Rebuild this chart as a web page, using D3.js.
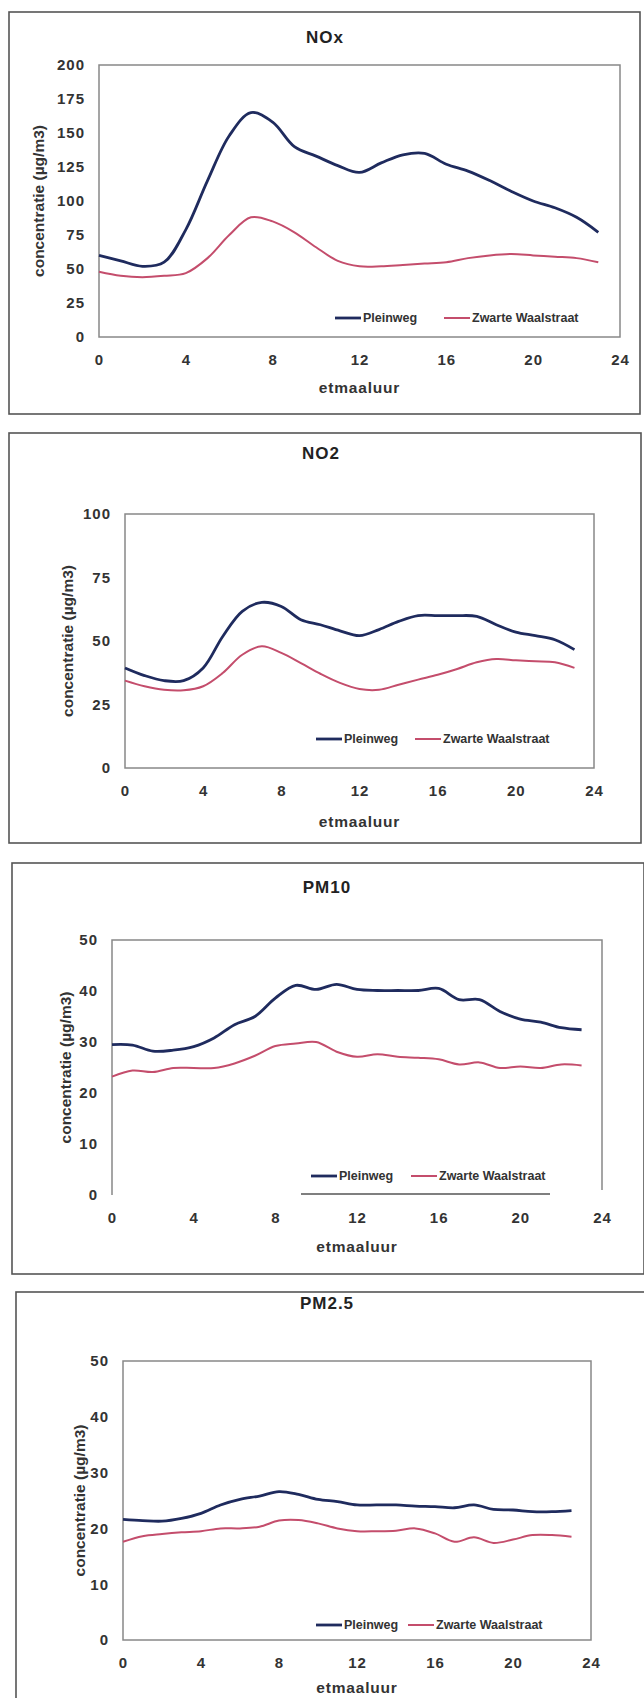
<!DOCTYPE html>
<html>
<head>
<meta charset="utf-8">
<script src="https://cdn.jsdelivr.net/npm/d3@7"></script>
<style>
  html, body { margin: 0; padding: 0; background: #fff; }
  svg { display: block; font-family: "Liberation Sans", Arial, sans-serif; }
</style>
</head>
<body>
<div id="chart"></div>
<script>
// uren van het etmaal
const hours = [0, 1, 2, 3, 4, 5, 6, 7, 8, 9, 10, 11, 12, 13, 14, 15, 16, 17, 18, 19, 20, 21, 22, 23];
const xTicks = [0, 4, 8, 12, 16, 20, 24];
const seriesNames = ['Pleinweg', 'Zwarte Waalstraat'];

// NOx
const noxPleinweg = [60, 56, 52, 55, 79, 115, 148, 165, 158, 140, 133, 126, 121, 128, 134, 135, 127, 122, 115, 107, 100, 95, 88, 77];
const noxZwarte   = [48, 45, 44, 45, 47, 58, 75, 88, 85, 77, 66, 56, 52, 52, 53, 54, 55, 58, 60, 61, 60, 59, 58, 55];
const noxTicks = [0, 25, 50, 75, 100, 125, 150, 175, 200];

// NO2
const no2Pleinweg = [39.4, 36.4, 34.4, 34.4, 39.4, 51.8, 61.7, 65.2, 63.6, 58.4, 56.4, 54, 52.1, 54.5, 57.7, 60, 60, 60, 59.7, 56.4, 53.5, 52.1, 50.5, 46.6];
const no2Zwarte   = [34.4, 32.2, 30.8, 30.6, 32.2, 37.4, 44.6, 47.9, 45.3, 41.3, 37.1, 33.5, 31.1, 30.8, 32.8, 34.8, 36.7, 39, 41.6, 42.9, 42.4, 42, 41.6, 39.4];
const no2Ticks = [0, 25, 50, 75, 100];

// PM10
const pm10Pleinweg = [29.5, 29.4, 28.2, 28.4, 29.1, 30.8, 33.4, 35, 38.6, 41.1, 40.3, 41.3, 40.3, 40.1, 40.1, 40.1, 40.5, 38.3, 38.3, 36, 34.5, 33.9, 32.8, 32.4];
const pm10Zwarte   = [23.2, 24.4, 24.1, 24.9, 24.9, 24.9, 25.8, 27.3, 29.2, 29.7, 30, 28.1, 27.1, 27.6, 27.1, 26.9, 26.6, 25.6, 26, 24.9, 25.2, 24.9, 25.6, 25.4];
const pm10Ticks = [0, 10, 20, 30, 40, 50];

// PM2.5
const pm25Pleinweg = [21.6, 21.4, 21.3, 21.8, 22.7, 24.2, 25.2, 25.8, 26.6, 26.1, 25.2, 24.8, 24.2, 24.2, 24.2, 24, 23.9, 23.7, 24.2, 23.4, 23.3, 23, 23, 23.2];
const pm25Zwarte   = [17.6, 18.6, 19, 19.3, 19.5, 20, 20, 20.3, 21.4, 21.5, 20.9, 20, 19.5, 19.5, 19.6, 20, 19.1, 17.6, 18.4, 17.4, 18, 18.8, 18.8, 18.5];
const pm25Ticks = [0, 10, 20, 30, 40, 50];

const colors = ['#1f2b5e', '#c44d6c'];
const widths = [2.8, 2];

// opmaak per paneel (box, plotvlak, legenda)
const panels = [
  { title: 'NOx', series: [noxPleinweg, noxZwarte], ticks: noxTicks,
    box: [9, 12, 640, 414], plot: [99, 65, 620, 337], titleX: 325, titleY: 37,
    yTitleX: 39, xTitleDy: 51, legY: 318, legX: [335, 444] },
  { title: 'NO2', series: [no2Pleinweg, no2Zwarte], ticks: no2Ticks,
    box: [9, 433, 641, 843], plot: [125, 514, 594, 768], titleX: 321, titleY: 453,
    yTitleX: 68, xTitleDy: 54, legY: 739, legX: [316, 415] },
  { title: 'PM10', series: [pm10Pleinweg, pm10Zwarte], ticks: pm10Ticks,
    box: [12, 863, 644, 1274], plot: [112, 940, 602, 1195], titleX: 327, titleY: 887,
    yTitleX: 66, xTitleDy: 52, legY: 1176, legX: [311, 411], brokenBottom: [301, 550] },
  { title: 'PM2.5', series: [pm25Pleinweg, pm25Zwarte], ticks: pm25Ticks,
    box: [16, 1292, 652, 1712], plot: [123, 1361, 591, 1640], titleX: 327, titleY: 1303,
    yTitleX: 80, xTitleDy: 48, legY: 1625, legX: [316, 408] }
];

const svg = d3.select('#chart').append('svg')
  .attr('width', 644)
  .attr('height', 1698);

panels.forEach(p => {
  const g = svg.append('g');
  const [bx0, by0, bx1, by1] = p.box;
  const [px0, py0, px1, py1] = p.plot;

  // kader rond paneel
  g.append('rect')
    .attr('x', bx0).attr('y', by0)
    .attr('width', bx1 - bx0).attr('height', by1 - by0)
    .attr('fill', 'none').attr('stroke', '#555').attr('stroke-width', 1.6);

  const x = d3.scaleLinear().domain([0, 24]).range([px0, px1]);
  const y = d3.scaleLinear().domain([0, d3.max(p.ticks)]).range([py1, py0]);

  // plotvlak
  if (p.brokenBottom) {
    g.append('path')
      .attr('d', `M${px0},${py1}V${py0}H${px1}V${py1 - 5}`)
      .attr('fill', 'none').attr('stroke', '#888').attr('stroke-width', 1.5);
    g.append('line')
      .attr('x1', p.brokenBottom[0]).attr('x2', p.brokenBottom[1])
      .attr('y1', py1 - 1).attr('y2', py1 - 1)
      .attr('stroke', '#555').attr('stroke-width', 1.6);
  } else {
    g.append('rect')
      .attr('x', px0).attr('y', py0)
      .attr('width', px1 - px0).attr('height', py1 - py0)
      .attr('fill', 'none').attr('stroke', '#888').attr('stroke-width', 1.5);
  }

  const yAxis = g.append('g')
    .attr('transform', `translate(${px0},0)`)
    .call(d3.axisLeft(y).tickValues(p.ticks).tickSize(0).tickPadding(14));
  const xAxis = g.append('g')
    .attr('transform', `translate(0,${py1})`)
    .call(d3.axisBottom(x).tickValues(xTicks).tickSize(0).tickPadding(17));
  [yAxis, xAxis].forEach(a => {
    a.select('.domain').remove();
    a.selectAll('text')
      .attr('font-family', '"Liberation Sans", Arial, sans-serif')
      .attr('font-size', 15)
      .attr('font-weight', 'bold')
      .attr('letter-spacing', 1)
      .attr('fill', '#333');
  });

  const line = d3.line()
    .x((d, i) => x(hours[i]))
    .y(d => y(d))
    .curve(d3.curveCatmullRom.alpha(0.5));

  p.series.forEach((s, k) => {
    g.append('path')
      .datum(s)
      .attr('d', line)
      .attr('fill', 'none')
      .attr('stroke', colors[k])
      .attr('stroke-width', widths[k])
      .attr('stroke-linejoin', 'round');
  });

  // titels
  g.append('text')
    .attr('x', p.titleX).attr('y', p.titleY)
    .attr('dy', '0.35em')
    .attr('text-anchor', 'middle')
    .attr('font-size', 17).attr('font-weight', 'bold')
    .attr('letter-spacing', 1)
    .attr('fill', '#222')
    .text(p.title);

  g.append('text')
    .attr('x', (px0 + px1) / 2).attr('y', py1 + p.xTitleDy)
    .attr('dy', '0.35em')
    .attr('text-anchor', 'middle')
    .attr('font-size', 15.5).attr('font-weight', 'bold')
    .attr('letter-spacing', 0.8)
    .attr('fill', '#333')
    .text('etmaaluur');

  g.append('text')
    .attr('transform', `translate(${p.yTitleX},${(py0 + py1) / 2}) rotate(-90)`)
    .attr('dy', '0.35em')
    .attr('text-anchor', 'middle')
    .attr('font-size', 15.5).attr('font-weight', 'bold')
    .attr('fill', '#333')
    .text('concentratie (µg/m3)');

  // legenda
  seriesNames.forEach((name, k) => {
    const lx = p.legX[k];
    g.append('line')
      .attr('x1', lx).attr('x2', lx + 26)
      .attr('y1', p.legY).attr('y2', p.legY)
      .attr('stroke', colors[k]).attr('stroke-width', widths[k]);
    g.append('text')
      .attr('x', lx + 28).attr('y', p.legY)
      .attr('dy', '0.35em')
      .attr('font-size', 12.5).attr('font-weight', 'bold')
      .attr('fill', '#333')
      .text(name);
  });
});
</script>
</body>
</html>
